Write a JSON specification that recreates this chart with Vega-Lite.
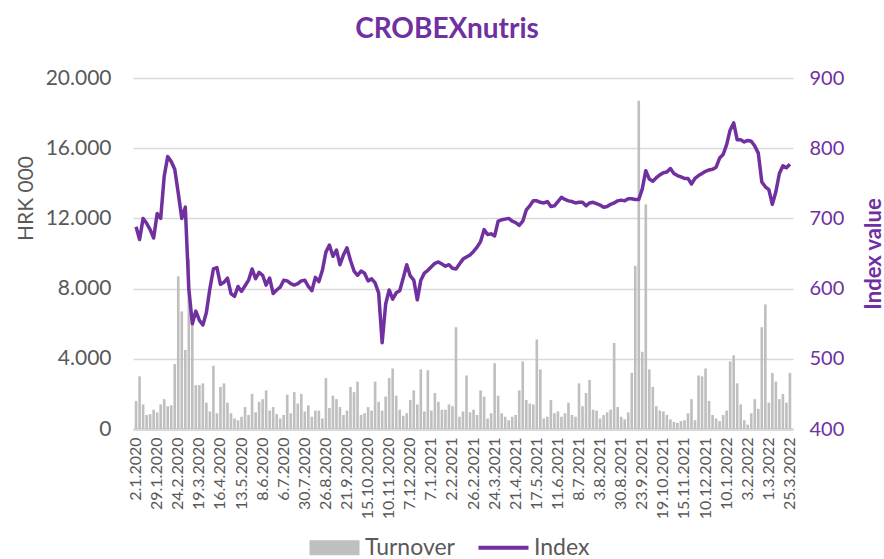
{
"$schema":"https://vega.github.io/schema/vega-lite/v6.json",
"width":660,"height":351,
"autosize":{"type":"none"},
"padding":{"left":133,"top":78,"right":91,"bottom":130},
"title":{"text":"CROBEXnutris","fontSize":28,"fontWeight":"bold","color":"#7030A0","font":"Lato","anchor":"middle","offset":23,"dx":-16},
"config":{"font":"Lato","view":{"stroke":null}},
"data":{"values":[
{"date":"2020-01-02","turnover":1600,"index":688},
{"date":"2020-01-07","turnover":3000,"index":670},
{"date":"2020-01-10","turnover":1400,"index":700},
{"date":"2020-01-15","turnover":800,"index":693},
{"date":"2020-01-20","turnover":850,"index":684},
{"date":"2020-01-24","turnover":1100,"index":672},
{"date":"2020-01-29","turnover":950,"index":707},
{"date":"2020-02-03","turnover":1400,"index":700},
{"date":"2020-02-07","turnover":1700,"index":760},
{"date":"2020-02-11","turnover":1300,"index":788},
{"date":"2020-02-14","turnover":1350,"index":781},
{"date":"2020-02-19","turnover":3700,"index":770},
{"date":"2020-02-24","turnover":8700,"index":736},
{"date":"2020-02-27","turnover":6700,"index":700},
{"date":"2020-03-03","turnover":4500,"index":716},
{"date":"2020-03-06","turnover":9700,"index":600},
{"date":"2020-03-11","turnover":6400,"index":550},
{"date":"2020-03-16","turnover":2500,"index":568},
{"date":"2020-03-19","turnover":2500,"index":555},
{"date":"2020-03-24","turnover":2600,"index":548},
{"date":"2020-03-27","turnover":1500,"index":566},
{"date":"2020-04-01","turnover":1000,"index":600},
{"date":"2020-04-06","turnover":3600,"index":628},
{"date":"2020-04-09","turnover":900,"index":630},
{"date":"2020-04-16","turnover":2400,"index":606},
{"date":"2020-04-21","turnover":2600,"index":609},
{"date":"2020-04-24","turnover":1500,"index":615},
{"date":"2020-04-29","turnover":900,"index":593},
{"date":"2020-05-05","turnover":600,"index":589},
{"date":"2020-05-08","turnover":500,"index":603},
{"date":"2020-05-13","turnover":700,"index":596},
{"date":"2020-05-18","turnover":1250,"index":604},
{"date":"2020-05-21","turnover":800,"index":612},
{"date":"2020-05-26","turnover":2000,"index":628},
{"date":"2020-05-29","turnover":950,"index":614},
{"date":"2020-06-03","turnover":1550,"index":623},
{"date":"2020-06-08","turnover":1700,"index":619},
{"date":"2020-06-12","turnover":2200,"index":605},
{"date":"2020-06-17","turnover":1050,"index":615},
{"date":"2020-06-23","turnover":1250,"index":593},
{"date":"2020-06-26","turnover":850,"index":598},
{"date":"2020-07-01","turnover":600,"index":602},
{"date":"2020-07-06","turnover":800,"index":612},
{"date":"2020-07-09","turnover":1950,"index":611},
{"date":"2020-07-14","turnover":900,"index":607},
{"date":"2020-07-17","turnover":2100,"index":605},
{"date":"2020-07-22","turnover":1450,"index":607},
{"date":"2020-07-27","turnover":2000,"index":611},
{"date":"2020-07-30","turnover":1000,"index":612},
{"date":"2020-08-04","turnover":1350,"index":603},
{"date":"2020-08-07","turnover":700,"index":597},
{"date":"2020-08-12","turnover":1050,"index":616},
{"date":"2020-08-17","turnover":1050,"index":610},
{"date":"2020-08-21","turnover":600,"index":626},
{"date":"2020-08-26","turnover":2900,"index":652},
{"date":"2020-08-31","turnover":1200,"index":662},
{"date":"2020-09-03","turnover":1900,"index":646},
{"date":"2020-09-08","turnover":1700,"index":655},
{"date":"2020-09-11","turnover":1250,"index":634},
{"date":"2020-09-16","turnover":800,"index":648},
{"date":"2020-09-21","turnover":1050,"index":658},
{"date":"2020-09-24","turnover":2400,"index":640},
{"date":"2020-09-29","turnover":2100,"index":625},
{"date":"2020-10-02","turnover":2700,"index":619},
{"date":"2020-10-07","turnover":800,"index":625},
{"date":"2020-10-12","turnover":900,"index":622},
{"date":"2020-10-15","turnover":1250,"index":611},
{"date":"2020-10-20","turnover":1050,"index":614},
{"date":"2020-10-23","turnover":2700,"index":608},
{"date":"2020-10-28","turnover":1550,"index":594},
{"date":"2020-11-02","turnover":1050,"index":523},
{"date":"2020-11-05","turnover":1850,"index":578},
{"date":"2020-11-10","turnover":2900,"index":598},
{"date":"2020-11-13","turnover":3450,"index":585},
{"date":"2020-11-18","turnover":1900,"index":594},
{"date":"2020-11-23","turnover":1100,"index":597},
{"date":"2020-11-26","turnover":750,"index":615},
{"date":"2020-12-02","turnover":900,"index":634},
{"date":"2020-12-07","turnover":1650,"index":618},
{"date":"2020-12-10","turnover":2200,"index":612},
{"date":"2020-12-15","turnover":1400,"index":584},
{"date":"2020-12-18","turnover":3400,"index":612},
{"date":"2020-12-23","turnover":1000,"index":622},
{"date":"2020-12-30","turnover":3350,"index":626},
{"date":"2021-01-07","turnover":1050,"index":631},
{"date":"2021-01-12","turnover":2050,"index":636},
{"date":"2021-01-15","turnover":1550,"index":638},
{"date":"2021-01-20","turnover":1100,"index":635},
{"date":"2021-01-25","turnover":1100,"index":632},
{"date":"2021-01-28","turnover":1400,"index":634},
{"date":"2021-02-02","turnover":1300,"index":629},
{"date":"2021-02-05","turnover":5800,"index":628},
{"date":"2021-02-10","turnover":700,"index":635},
{"date":"2021-02-15","turnover":1000,"index":642},
{"date":"2021-02-18","turnover":3050,"index":645},
{"date":"2021-02-23","turnover":950,"index":648},
{"date":"2021-02-26","turnover":1100,"index":653},
{"date":"2021-03-03","turnover":800,"index":659},
{"date":"2021-03-08","turnover":2200,"index":667},
{"date":"2021-03-11","turnover":1850,"index":684},
{"date":"2021-03-16","turnover":600,"index":677},
{"date":"2021-03-19","turnover":900,"index":678},
{"date":"2021-03-24","turnover":3750,"index":675},
{"date":"2021-03-29","turnover":1900,"index":696},
{"date":"2021-04-01","turnover":900,"index":698},
{"date":"2021-04-08","turnover":700,"index":699},
{"date":"2021-04-13","turnover":500,"index":700},
{"date":"2021-04-16","turnover":700,"index":696},
{"date":"2021-04-21","turnover":800,"index":694},
{"date":"2021-04-26","turnover":2200,"index":690},
{"date":"2021-04-29","turnover":3850,"index":696},
{"date":"2021-05-04","turnover":1650,"index":712},
{"date":"2021-05-07","turnover":1450,"index":718},
{"date":"2021-05-12","turnover":1400,"index":725},
{"date":"2021-05-17","turnover":5100,"index":725},
{"date":"2021-05-20","turnover":3400,"index":723},
{"date":"2021-05-25","turnover":600,"index":722},
{"date":"2021-05-28","turnover":700,"index":724},
{"date":"2021-06-02","turnover":1650,"index":717},
{"date":"2021-06-07","turnover":900,"index":718},
{"date":"2021-06-11","turnover":1000,"index":724},
{"date":"2021-06-16","turnover":700,"index":730},
{"date":"2021-06-21","turnover":900,"index":727},
{"date":"2021-06-24","turnover":1500,"index":725},
{"date":"2021-06-29","turnover":800,"index":724},
{"date":"2021-07-05","turnover":700,"index":722},
{"date":"2021-07-08","turnover":2600,"index":723},
{"date":"2021-07-13","turnover":1300,"index":723},
{"date":"2021-07-16","turnover":2050,"index":718},
{"date":"2021-07-21","turnover":2800,"index":722},
{"date":"2021-07-26","turnover":1100,"index":723},
{"date":"2021-07-29","turnover":1050,"index":721},
{"date":"2021-08-03","turnover":600,"index":719},
{"date":"2021-08-09","turnover":800,"index":716},
{"date":"2021-08-12","turnover":950,"index":717},
{"date":"2021-08-17","turnover":1100,"index":720},
{"date":"2021-08-20","turnover":4900,"index":722},
{"date":"2021-08-25","turnover":1250,"index":725},
{"date":"2021-08-30","turnover":700,"index":726},
{"date":"2021-09-02","turnover":550,"index":725},
{"date":"2021-09-07","turnover":950,"index":728},
{"date":"2021-09-10","turnover":3200,"index":728},
{"date":"2021-09-15","turnover":9300,"index":727},
{"date":"2021-09-20","turnover":18700,"index":727},
{"date":"2021-09-23","turnover":4400,"index":742},
{"date":"2021-09-28","turnover":12800,"index":768},
{"date":"2021-10-01","turnover":3400,"index":756},
{"date":"2021-10-06","turnover":2400,"index":753},
{"date":"2021-10-11","turnover":1300,"index":758},
{"date":"2021-10-14","turnover":1050,"index":762},
{"date":"2021-10-19","turnover":1000,"index":765},
{"date":"2021-10-22","turnover":800,"index":766},
{"date":"2021-10-27","turnover":550,"index":771},
{"date":"2021-11-02","turnover":400,"index":764},
{"date":"2021-11-05","turnover":350,"index":761},
{"date":"2021-11-10","turnover":450,"index":759},
{"date":"2021-11-15","turnover":500,"index":757},
{"date":"2021-11-18","turnover":900,"index":757},
{"date":"2021-11-23","turnover":1700,"index":749},
{"date":"2021-11-26","turnover":500,"index":757},
{"date":"2021-12-01","turnover":3050,"index":761},
{"date":"2021-12-06","turnover":3000,"index":764},
{"date":"2021-12-10","turnover":3450,"index":767},
{"date":"2021-12-15","turnover":1600,"index":769},
{"date":"2021-12-20","turnover":800,"index":770},
{"date":"2021-12-23","turnover":600,"index":773},
{"date":"2021-12-30","turnover":450,"index":786},
{"date":"2022-01-05","turnover":800,"index":791},
{"date":"2022-01-10","turnover":1050,"index":805},
{"date":"2022-01-13","turnover":3850,"index":826},
{"date":"2022-01-18","turnover":4200,"index":836},
{"date":"2022-01-21","turnover":2600,"index":812},
{"date":"2022-01-26","turnover":1400,"index":812},
{"date":"2022-01-31","turnover":500,"index":809},
{"date":"2022-02-03","turnover":250,"index":811},
{"date":"2022-02-08","turnover":900,"index":810},
{"date":"2022-02-11","turnover":1700,"index":803},
{"date":"2022-02-16","turnover":1150,"index":793},
{"date":"2022-02-21","turnover":5800,"index":752},
{"date":"2022-02-24","turnover":7100,"index":745},
{"date":"2022-03-01","turnover":1500,"index":741},
{"date":"2022-03-04","turnover":3200,"index":720},
{"date":"2022-03-09","turnover":2700,"index":738},
{"date":"2022-03-14","turnover":1700,"index":764},
{"date":"2022-03-17","turnover":2000,"index":775},
{"date":"2022-03-22","turnover":1500,"index":772},
{"date":"2022-03-25","turnover":3200,"index":777}
]},
"encoding":{
 "x":{"field":"date","type":"ordinal","sort":null,
  "scale":{"paddingInner":0.25,"paddingOuter":0.5},
  "axis":{"title":null,"labelAngle":270,"labelFontSize":16,"labelColor":"#595959","labelPadding":8,"ticks":false,"tickSize":0,"grid":false,
   "domain":true,"domainColor":"#D9D9D9","domainWidth":3,
   "values":["2020-01-02","2020-01-29","2020-02-24","2020-03-19","2020-04-16","2020-05-13","2020-06-08","2020-07-06","2020-07-30","2020-08-26","2020-09-21","2020-10-15","2020-11-10","2020-12-07","2021-01-07","2021-02-02","2021-02-26","2021-03-24","2021-04-21","2021-05-17","2021-06-11","2021-07-08","2021-08-03","2021-08-30","2021-09-23","2021-10-19","2021-11-15","2021-12-10","2022-01-10","2022-02-03","2022-03-01","2022-03-25"],
   "labelExpr":"utcFormat(toDate(datum.value), '%-d.%-m.%Y')"}}
},
"layer":[
 {"mark":{"type":"bar"},
  "encoding":{
   "y":{"field":"turnover","type":"quantitative","scale":{"domain":[0,20000]},
    "axis":{"title":"HRK 000","titleFontSize":21,"titleFontWeight":"normal","titleColor":"#595959","titleAngle":270,"titleBaseline":"alphabetic","titleX":-101,"titleY":120,
     "values":[0,4000,8000,12000,16000,20000],"labelExpr":"replace(format(datum.value, ','), ',', '.')",
     "labelFontSize":21,"labelColor":"#595959","labelPadding":22,"ticks":false,"tickSize":0,"domain":false,
     "grid":true,"gridColor":"#D9D9D9","gridWidth":1.5}},
   "color":{"datum":"Turnover","scale":{"domain":["Turnover","Index"],"range":["#BFBFBF","#7030A0"]},
    "legend":{"title":null,"orient":"none","legendX":190,"legendY":458,"direction":"horizontal",
     "labelFontSize":23,"labelColor":"#595959","labelOffset":19,"columnPadding":15,"symbolSize":2500,
     "encode":{"symbols":{"update":{
       "shape":{"signal":"datum.value === 'Turnover' ? 'M-1,-0.3H1V0.3H-1Z' : 'M-1,0H1'"},
       "fill":{"signal":"datum.value === 'Turnover' ? '#BFBFBF' : 'transparent'"},
       "stroke":{"signal":"datum.value === 'Turnover' ? 'transparent' : '#7030A0'"},
       "strokeWidth":{"signal":"datum.value === 'Turnover' ? 0 : 4"}}}}}}
  }},
 {"mark":{"type":"line","strokeWidth":3.5,"strokeJoin":"round"},
  "encoding":{
   "y":{"field":"index","type":"quantitative","scale":{"domain":[400,900]},
    "axis":{"orient":"right","title":"Index value","titleFontSize":22,"titleFontWeight":"bold","titleColor":"#7030A0","titleAngle":270,"titleBaseline":"alphabetic","titleX":87,"titleY":175.5,
     "values":[400,500,600,700,800,900],"labelFontSize":20,"labelColor":"#7030A0","labelPadding":16,"ticks":false,"tickSize":0,"domain":false,"grid":false}},
   "color":{"datum":"Index"}
  }}
],
"resolve":{"scale":{"y":"independent"}}
}
